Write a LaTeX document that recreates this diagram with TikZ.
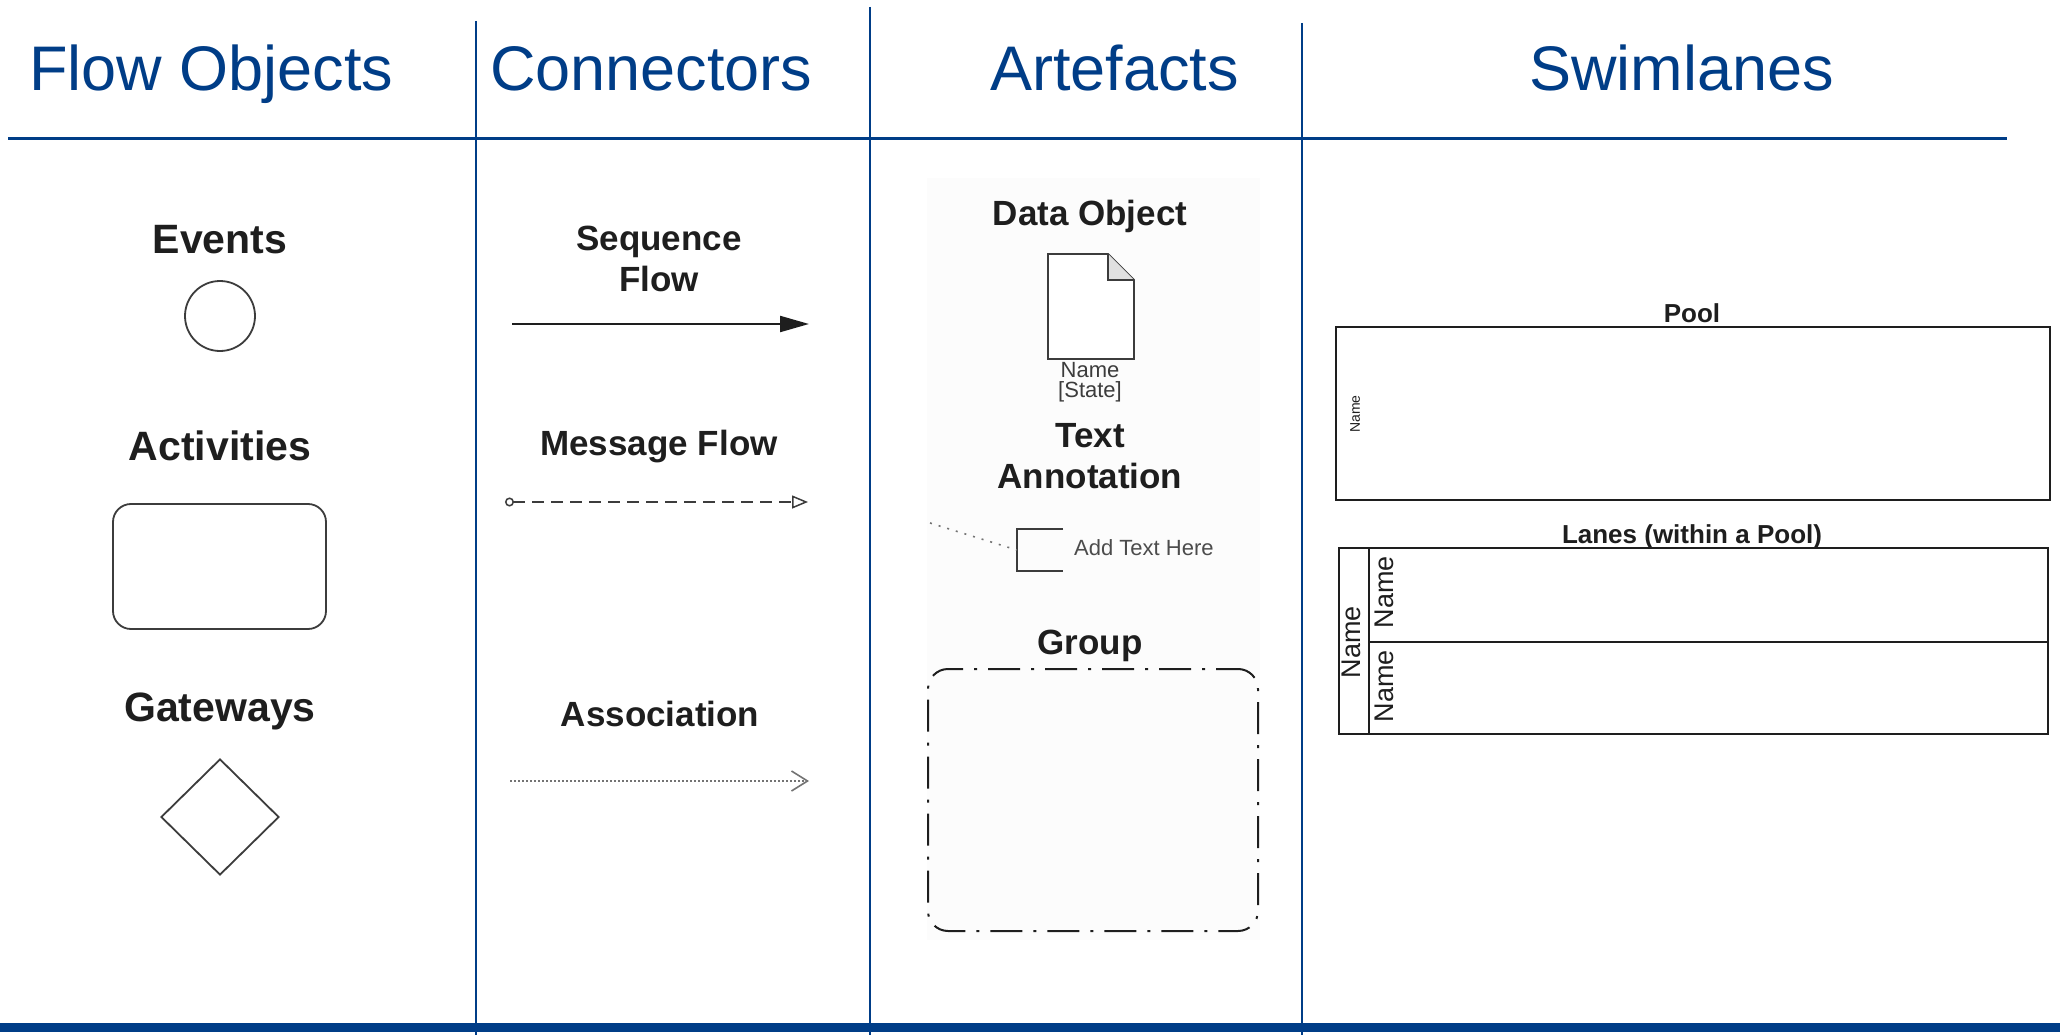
\documentclass[tikz,border=0pt]{standalone}
\usepackage{fontspec}
\setmainfont{Liberation Sans}
\usetikzlibrary{arrows.meta,shapes.geometric}
\definecolor{bpmnblue}{RGB}{0,61,135}
\definecolor{ink}{RGB}{30,30,30}
\definecolor{shp}{RGB}{60,60,60}
\begin{document}
\begin{tikzpicture}[x=1pt,y=-1pt,
  colline/.style={draw=bpmnblue,line width=2pt},
  hdr/.style={text=bpmnblue,font=\fontsize{63}{70}\selectfont,anchor=base west,inner sep=0pt},
  lblA/.style={text=ink,font=\bfseries\fontsize{41}{46}\selectfont,anchor=base,inner sep=0pt,align=center},
  lblB/.style={text=ink,font=\bfseries\fontsize{35}{41}\selectfont,anchor=base,inner sep=0pt,align=center},
  lblC/.style={text=ink,font=\bfseries\fontsize{26}{30}\selectfont,anchor=base,inner sep=0pt},
  small/.style={text=shp,font=\fontsize{22}{20}\selectfont,anchor=base,inner sep=0pt},
  shapeline/.style={draw=shp,line width=1.8pt},
  lane/.style={draw=ink,line width=1.8pt,inner sep=0pt}
]
\useasboundingbox (0,0) rectangle (2062,1035);
\fill[white] (0,0) rectangle (2062,1035);

% faint artefact background
\fill[black!1] (927,178) rectangle (1260,940);

% frame lines
\coordinate (hl) at (8,139);
\coordinate (hr) at (2007,139);
\draw[draw=bpmnblue,line width=3pt] (hl) -- (hr);
\coordinate (bl) at (0,1027.5);
\coordinate (br) at (2060,1027.5);
\draw[draw=bpmnblue,line width=9pt] (bl) -- (br);
\coordinate (v1t) at (476,21);  \coordinate (v1b) at (476,1035);
\coordinate (v2t) at (870,7);   \coordinate (v2b) at (870,1035);
\coordinate (v3t) at (1302,23); \coordinate (v3b) at (1302,1035);
\draw[colline] (v1t) -- (v1b);
\draw[colline] (v2t) -- (v2b);
\draw[colline] (v3t) -- (v3b);

% headers
\node[hdr] (h1) at (29,91) {Flow Objects};
\node[hdr] (h2) at (490,91) {Connectors};
\node[hdr] (h3) at (990,91) {Artefacts};
\node[hdr] (h4) at (1529,91) {Swimlanes};

% Flow objects
\node[lblA] (tev) at (220,254) {Events};
\node[shapeline,circle,minimum size=70pt,inner sep=0pt] (ev) at (220,316) {};
\node[lblA] (tac) at (220,460) {Activities};
\node[shapeline,rectangle,rounded corners=18pt,minimum width=213pt,minimum height=125pt] (ac) at (219.5,566.5) {};
\node[lblA] (tgw) at (220,721) {Gateways};
\node[shapeline,diamond,minimum width=118pt,minimum height=116pt,inner sep=0pt] (gw) at (220,817) {};

% Connectors
\node[lblB] (tsf) at (659,291) {Sequence\\Flow};
\coordinate (sfa) at (512,324);
\coordinate (sfb) at (809,324);
\draw[draw=ink,line width=2.2pt,-{Triangle[length=29pt,width=16pt]}] (sfa) -- (sfb);

\node[lblB] (tmf) at (659,455) {Message Flow};
\coordinate (mfa) at (505,502);
\coordinate (mfb) at (808,502);
\draw[draw=shp,line width=1.3pt,dash pattern=on 12pt off 7pt,
  {Circle[open,length=9pt,width=9pt,line width=1.5pt]}-{Triangle[open,length=16pt,width=13pt,line width=1.5pt]}] (mfa) -- (mfb);

\node[lblB] (tas) at (660,726) {Association};
\coordinate (asa) at (510,781);
\coordinate (asb) at (809,781);
\draw[draw=black!55,line width=1.6pt,dash pattern=on 2pt off 2pt,
  -{Straight Barb[length=16pt,width=20pt,line width=1.6pt]}] (asa) -- (asb);

% Artefacts
\node[lblB] (tdo) at (1090,226) {Data Object};
\coordinate (doc) at (1048,254);
\draw[shapeline,fill=white] (doc) -- ++(60,0) -- ++(26,26) -- ++(0,79) -- ++(-86,0) -- cycle;
\fill[black!12] (1108,254) -- (1108,280) -- (1134,280) -- cycle;
\draw[draw=shp,line width=1.4pt] (1108,254) -- (1108,280) -- (1134,280);
\node[small] (dname) at (1090,377) {Name};
\node[small] (dstate) at (1090,397) {[State]};

\node[lblB] (tta) at (1090,488) {Text\\Annotation};
\node[minimum width=46pt,minimum height=42pt,inner sep=0pt] (ann) at (1040,550) {};
\draw[shapeline] (ann.north east) -- (ann.north west) -- (ann.south west) -- (ann.south east);
\coordinate (annst) at (930,523);
\draw[draw=black!55,line width=1.6pt,dash pattern=on 2pt off 7pt] (annst) -- (ann.west);
\node[small,anchor=base west,text=black!70] (anntxt) at (1074,555) {Add Text Here};

\node[lblB] (tgr) at (1090,654) {Group};
\node[draw=ink,line width=2pt,rounded corners=20pt,minimum width=330pt,minimum height=262pt,
  dash pattern=on 32pt off 11pt on 3pt off 11pt,dash phase=10pt] (grp) at (1093,800) {};

% Swimlanes
\node[lblC] (tpool) at (1692,322) {Pool};
\node[lane,minimum width=714pt,minimum height=173pt] (pool) at (1693,413.5) {};
\node[rotate=90,text=ink,font=\fontsize{14}{16}\selectfont,inner sep=0pt] (pname) at (1355,414) {Name};

\node[lblC] (tlanes) at (1692,543) {Lanes (within a Pool)};
\node[lane,minimum width=709pt,minimum height=186pt] (lp) at (1693.5,641) {};
\coordinate (dvt) at (1369,548);
\coordinate (dvb) at (1369,734);
\draw[draw=ink,line width=1.8pt] (dvt) -- (dvb);
\coordinate (dhl) at (1369,642);
\coordinate (dhr) at (2048,642);
\draw[draw=ink,line width=1.8pt] (dhl) -- (dhr);
\node[rotate=90,text=ink,font=\fontsize{27}{30}\selectfont,inner sep=0pt] (lpname) at (1351,642) {Name};
\node[rotate=90,text=ink,font=\fontsize{27}{30}\selectfont,inner sep=0pt] (l1name) at (1384,592) {Name};
\node[rotate=90,text=ink,font=\fontsize{27}{30}\selectfont,inner sep=0pt] (l2name) at (1384,686) {Name};
\end{tikzpicture}
\end{document}
